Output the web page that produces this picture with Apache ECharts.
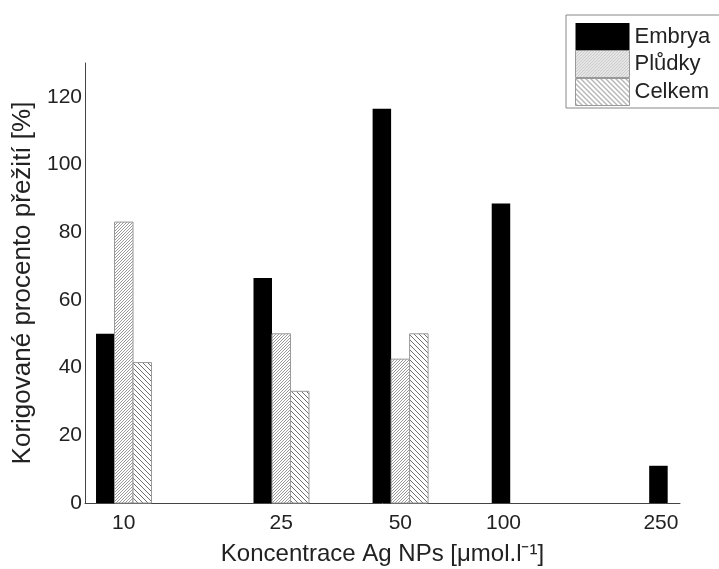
<!DOCTYPE html>
<html>
<head>
<meta charset="utf-8">
<script src="https://cdn.jsdelivr.net/npm/echarts@6/dist/echarts.min.js"></script>
<style>
  html, body { margin: 0; padding: 0; background: #fff; }
  #chart { width: 719px; height: 569px; }
</style>
</head>
<body>
<div id="chart"></div>
<script>
// koncentrace (x) a hodnoty pro jednotlive serie
const concs = [10, 25, 50, 100, 250];
const embrya = [50, 66.5, 116.5, 88.5, 11];
const pludky = [83, 50, 42.5, null, null];
const celkem = [41.5, 33, 50, null, null];
const yTicks = [0, 20, 40, 60, 80, 100, 120];

// srafovani jako canvas vzor
function hatch(size, dir, color) {
  const c = document.createElement('canvas');
  c.width = size; c.height = size;
  const ctx = c.getContext('2d');
  ctx.fillStyle = '#fff';
  ctx.fillRect(0, 0, size, size);
  ctx.fillStyle = color;
  for (let x = 0; x < size; x++) {
    for (let y = 0; y < size; y++) {
      const k = dir > 0 ? (x + y) % size : ((x - y) % size + size) % size;
      if (k === 0) ctx.fillRect(x, y, 1, 1);
    }
  }
  return { image: c, repeat: 'repeat' };
}

const fillEmb = '#000';
const fillPlu = hatch(3, 1, '#9a9a9a');
const fillCel = hatch(5, -1, '#707070');

const barW = 18.5;

// skupina tri sloupcu, stred skupiny = prostredni sloupec
function renderFor(shift, fill, stroke) {
  return function (params, api) {
    const x = api.value(0);
    const y = api.value(1);
    const top = api.coord([x, y]);
    const base = api.coord([x, 0]);
    return {
      type: 'rect',
      shape: { x: top[0] + shift - barW / 2, y: top[1], width: barW, height: base[1] - top[1] },
      style: { fill: fill, stroke: stroke, lineWidth: stroke ? 1 : 0 }
    };
  };
}

function pairs(vals) {
  return concs.map((c, i) => [c, vals[i]]).filter(d => d[1] != null);
}

let myChart = echarts.init(document.getElementById('chart'));
myChart.setOption({
  animation: false,
  backgroundColor: '#fff',
  textStyle: { fontFamily: 'Liberation Sans, Arial, sans-serif' },
  grid: { left: 85, right: 39, top: 63, bottom: 66, outerBoundsMode: 'none' },
  legend: {
    orient: 'vertical',
    left: 566,
    top: 15,
    padding: [8, 40, 2, 9],
    borderColor: '#888',
    borderWidth: 1,
    itemWidth: 54,
    itemHeight: 27,
    itemGap: 0,
    textStyle: { fontSize: 22, color: '#222' },
    data: [
      { name: 'Embrya', icon: 'rect', itemStyle: { color: fillEmb } },
      { name: 'Plůdky', icon: 'rect', itemStyle: { color: fillPlu, borderColor: '#999', borderWidth: 1 } },
      { name: 'Celkem', icon: 'rect', itemStyle: { color: fillCel, borderColor: '#999', borderWidth: 1 } }
    ]
  },
  xAxis: {
    type: 'log',
    logBase: 10,
    min: 7.98,
    max: 254.5,
    name: 'Koncentrace Ag NPs [μmol.l⁻¹]',
    nameLocation: 'middle',
    nameGap: 39,
    nameTextStyle: { fontSize: 24, color: '#222' },
    axisLine: { lineStyle: { color: '#444', width: 1 } },
    axisTick: { show: false },
    splitLine: { show: false },
    axisLabel: {
      customValues: concs,
      fontSize: 21,
      color: '#222',
      margin: 10,
      // popisky 100 a 250 sedi v originale pod cernym sloupcem
      formatter: v => (v >= 100 ? '{s|' + v + '}' : String(v)),
      rich: { s: { fontSize: 21, color: '#222', padding: [0, 32, 0, 0] } }
    }
  },
  yAxis: {
    type: 'value',
    min: 0,
    max: 130,
    interval: 20,
    name: 'Korigované procento přežití [%]',
    nameLocation: 'middle',
    nameGap: 44,
    nameTextStyle: { fontSize: 26, color: '#222' },
    axisLine: { show: true, lineStyle: { color: '#444', width: 1 } },
    axisTick: { show: false },
    splitLine: { show: false },
    axisLabel: { customValues: yTicks, fontSize: 21, color: '#222', margin: 3 }
  },
  series: [
    { name: 'Embrya', type: 'custom', renderItem: renderFor(-barW, fillEmb, null),
      itemStyle: { color: fillEmb }, encode: { x: 0, y: 1 }, data: pairs(embrya) },
    { name: 'Plůdky', type: 'custom', renderItem: renderFor(0, fillPlu, '#999'),
      itemStyle: { color: fillPlu }, encode: { x: 0, y: 1 }, data: pairs(pludky) },
    { name: 'Celkem', type: 'custom', renderItem: renderFor(barW, fillCel, '#999'),
      itemStyle: { color: fillCel }, encode: { x: 0, y: 1 }, data: pairs(celkem) }
  ]
});
</script>
</body>
</html>
